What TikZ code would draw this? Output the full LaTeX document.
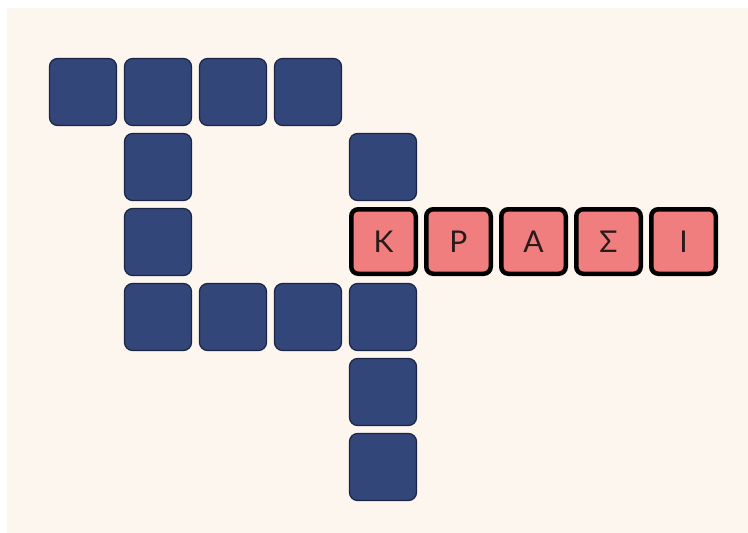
\documentclass[tikz,border=0pt]{standalone}
\usepackage{fontspec}
\newfontfamily\tilefont{Lato}
\definecolor{cream}{HTML}{FDF6EF}
\definecolor{tileblue}{HTML}{33467A}
\definecolor{tileedge}{HTML}{1B2546}
\definecolor{tilered}{HTML}{F17E7E}
\definecolor{ink}{HTML}{2A1A1A}
\begin{document}
\begin{tikzpicture}[x=1pt,y=-1pt,
  bluetile/.style={draw=tileedge,line width=1.2pt,fill=tileblue,rounded corners=8pt,minimum width=67pt,minimum height=67pt,inner sep=0pt,outer sep=0pt},
  redtile/.style={draw=black,line width=4.5pt,fill=tilered,rounded corners=7pt,minimum width=64.5pt,minimum height=64.5pt,inner sep=0pt,outer sep=0pt,font=\tilefont\fontsize{30}{30}\selectfont,text=ink}]
\useasboundingbox (0,0) rectangle (748,533);
\fill[white] (0,0) rectangle (748,533);
\fill[cream] (7,8) rectangle (748,533);
% blue tiles: center x = 83+75c, y = 92+75r
\foreach \c/\r/\n in {0/0/a,1/0/b,2/0/c,3/0/d,1/1/e,4/1/f,1/2/g,1/3/h,2/3/i,3/3/j,4/3/k,4/4/l,4/5/m}{
  \node[bluetile] (b\n) at ({83+75*\c},{92+75*\r}) {};
}
\node[redtile] (rk) at (383.5,241.5) {Κ};
\node[redtile] (rp) at (458.5,241.5) {Ρ};
\node[redtile] (ra) at (533.5,241.5) {Α};
\node[redtile] (rs) at (608.5,241.5) {Σ};
\node[redtile] (ri) at (683.5,241.5) {Ι};
\end{tikzpicture}
\end{document}
